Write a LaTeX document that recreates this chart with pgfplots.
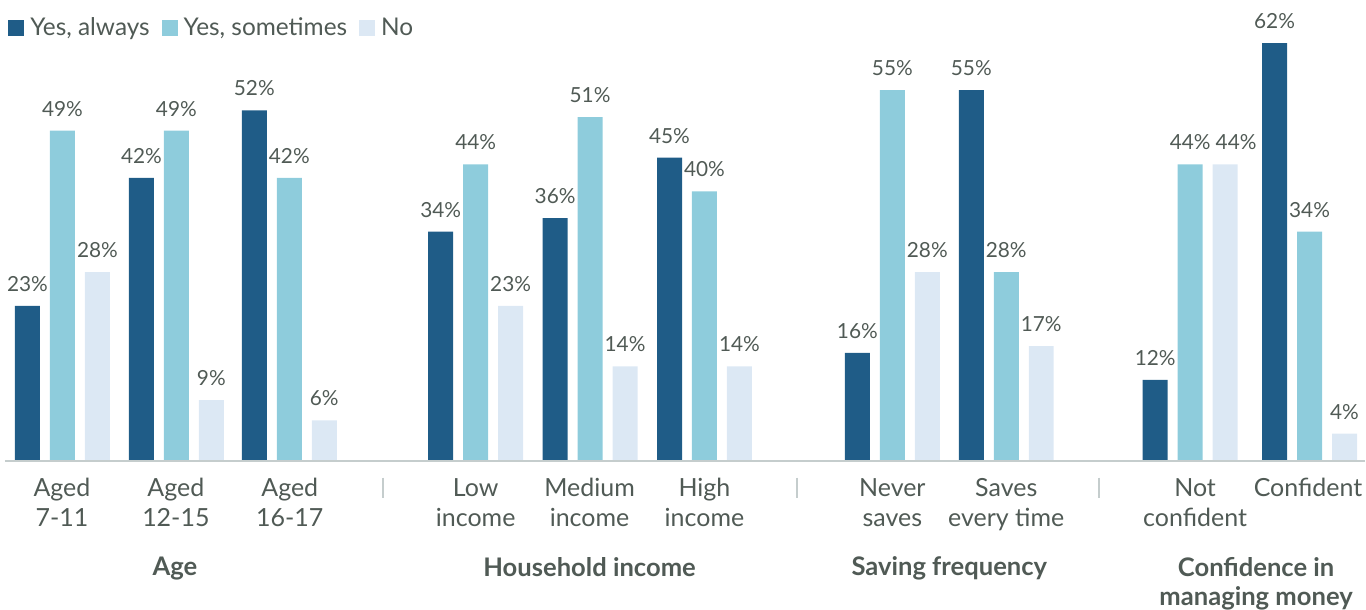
\documentclass[border=0pt]{standalone}
\usepackage{pgfplots}
\pgfplotsset{compat=1.18}
\usepackage{fontspec}
\setmainfont{Lato}
\definecolor{always}{HTML}{1F5C87}
\definecolor{sometimes}{HTML}{8ECCDC}
\definecolor{never}{HTML}{DCE8F4}
\definecolor{txt}{HTML}{505A55}
\definecolor{rule}{HTML}{C5CDCD}

\begin{document}
\begin{tikzpicture}
\begin{axis}[
  scale only axis,
  width=683pt, height=302.5pt,
  xmin=0, xmax=1366,
  ymin=-21.36, ymax=68.40,
  hide axis,
  clip=false,
  /pgf/number format/assume math mode=true,
  ybar, bar width=25, bar shift=0pt,
  nodes near coords={\pgfmathprintnumber{\pgfplotspointmeta}\%},
  every node near coord/.append style={font=\fontsize{10.4}{12}\selectfont, text=txt, inner sep=0pt, anchor=south, yshift=7pt},
  legend columns=3,
  legend style={at={(axis cs:8,64.25)}, anchor=west, draw=none, fill=none,
    inner sep=0pt, font=\fontsize{12.2}{14}\selectfont, text=txt,
    nodes={inner sep=0pt},
    /tikz/every odd column/.append style={column sep=3pt},
    /tikz/every even column/.append style={column sep=6pt}},
  legend image code/.code={\fill[#1] (0pt,-4pt) rectangle (8pt,4pt);},
]
% group centres: 62.5 176.5 289.5 476 590.5 705 893 1007 1191 1310.5
\addplot[fill=always, draw=none] coordinates {
  (27.5,23) (141.5,42) (254.5,52) (441,34) (555.5,36) (670,45)
  (858,16) (972,55) (1156,12) (1275.5,62)};
\addplot[fill=sometimes, draw=none] coordinates {
  (62.5,49) (176.5,49) (289.5,42) (476,44) (590.5,51) (705,40)
  (893,55) (1007,28) (1191,44) (1310.5,34)};
\addplot[fill=never, draw=none,
  visualization depends on={value \thisrow{dx} \as \dx},
  every node near coord/.append style={xshift=\dx pt}] table {
x y dx
97.5 28 0
211.5 9 0
324.5 6 0
511 23 0
625.5 14 0
740 14 0
928 28 0
1042 17 0
1226 44 5.5
1345.5 4 0
};
\legend{{Yes, always},{Yes, sometimes},{No}}

% baseline
\draw[rule, line width=1pt] (axis cs:5,0) -- (axis cs:1366,0);
% separators
\draw[rule, line width=1pt] (axis cs:383,-2.52) -- (axis cs:383,-5.49);
\draw[rule, line width=1pt] (axis cs:798,-2.52) -- (axis cs:798,-5.49);
\draw[rule, line width=1pt] (axis cs:1100,-2.52) -- (axis cs:1100,-5.49);

% category labels
\begin{scope}[every node/.style={anchor=north, align=center, inner sep=0pt,
    text=txt, font=\fontsize{12.5}{15}\selectfont}]
\node at (axis cs:62,-2.6) {Aged\\7-11};
\node at (axis cs:176,-2.6) {Aged\\12-15};
\node at (axis cs:290,-2.6) {Aged\\16-17};
\node at (axis cs:476,-2.6) {Low\\income};
\node at (axis cs:590,-2.6) {Medium\\income};
\node at (axis cs:705,-2.6) {High\\income};
\node at (axis cs:893,-2.6) {Never\\saves};
\node at (axis cs:1007,-2.6) {Saves\\every time};
\node at (axis cs:1196,-2.6) {Not\\confident};
\node at (axis cs:1309,-2.6) {Confident};
\end{scope}

% group titles
\begin{scope}[every node/.style={anchor=north, align=center, inner sep=0pt,
    text=txt, font=\fontsize{12.8}{14.5}\selectfont\bfseries}]
\node at (axis cs:175,-14.24) {Age};
\node at (axis cs:590,-14.24) {Household income};
\node at (axis cs:950,-14.24) {Saving frequency};
\node at (axis cs:1257,-14.24) {Confidence in\\managing money};
\end{scope}

\path (axis cs:0,-21.36) rectangle (axis cs:1366,68.40);
\end{axis}
\end{tikzpicture}
\end{document}
